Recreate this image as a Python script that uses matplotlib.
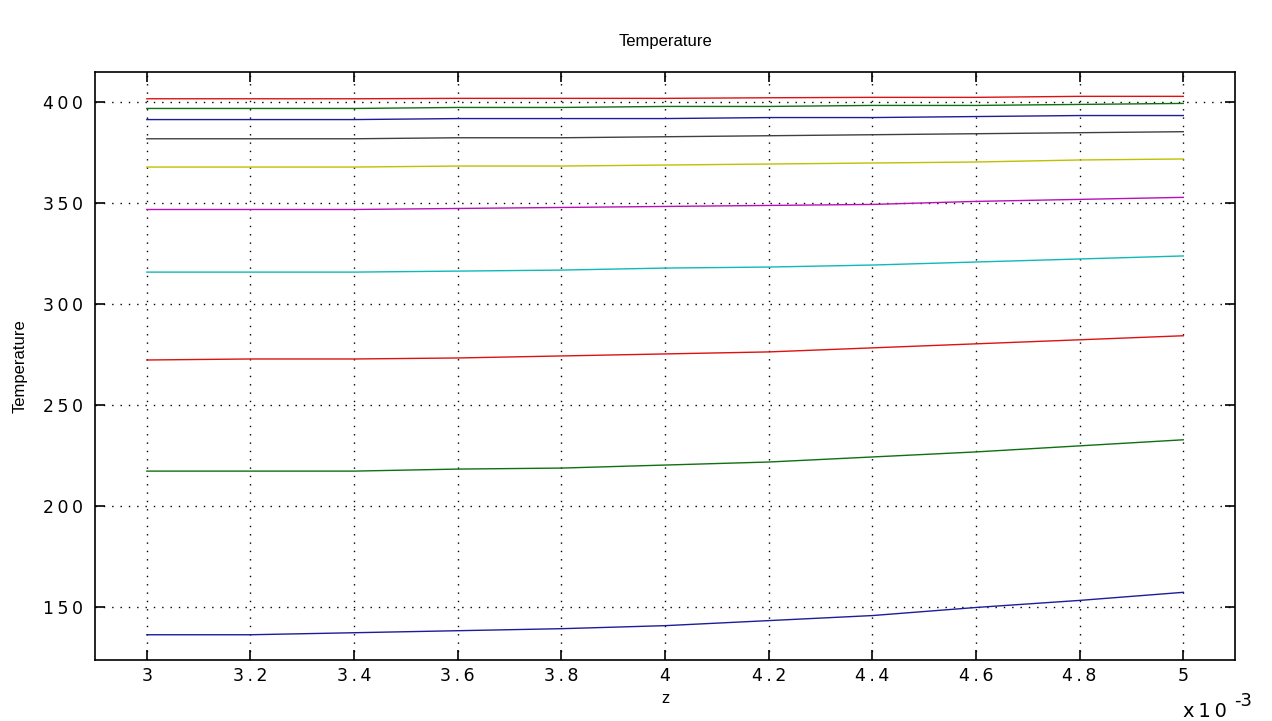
import numpy as np
import matplotlib.pyplot as plt

plt.rcParams['font.family'] = ['Liberation Sans', 'DejaVu Sans']

# z positions (m) and temperature profiles, bottom curve first
z = np.array([3.0, 3.2, 3.4, 3.6, 3.8, 4.0, 4.2, 4.4, 4.6, 4.8, 5.0]) * 1e-3

T1 = [136.5, 136.5, 137.5, 138.5, 139.5, 141, 143.5, 146, 150, 153.5, 157.5]
T2 = [217.5, 217.5, 217.5, 218.5, 219, 220.5, 222, 224.5, 227, 230, 233]
T3 = [272.5, 273, 273, 273.5, 274.5, 275.5, 276.5, 278.5, 280.5, 282.5, 284.5]
T4 = [316, 316, 316, 316.5, 317, 318, 318.5, 319.5, 321, 322.5, 324]
T5 = [347, 347, 347, 347.5, 348, 348.5, 349, 349.5, 351, 352, 353]
T6 = [368, 368, 368, 368.5, 368.5, 369, 369.5, 370, 370.5, 371.5, 372]
T7 = [382, 382, 382, 382.5, 382.5, 383, 383.5, 384, 384.5, 385, 385.5]
T8 = [391.5, 391.5, 391.5, 392, 392, 392, 392.5, 392.5, 393, 393.5, 393.5]
T9 = [397, 397, 397, 397.5, 397.5, 398, 398, 398.5, 398.5, 399, 399.5]
T10 = [401.8, 401.8, 401.8, 402, 402, 402, 402.3, 402.5, 402.5, 403, 403]

profiles = [T1, T2, T3, T4, T5, T6, T7, T8, T9, T10]
# old MATLAB line colour order
colors = ['#1c1c9c', '#107010', '#e01010', '#10b8b8', '#b810b8',
          '#c0c000', '#404040', '#1c1c9c', '#107010', '#e01010']

xticks = [3.0, 3.2, 3.4, 3.6, 3.8, 4.0, 4.2, 4.4, 4.6, 4.8, 5.0]
yticks = [150, 200, 250, 300, 350, 400]


def spaced(s):
    # matlab-ish wide tick label spacing
    return '\u2009'.join(s)


fig = plt.figure(figsize=(12.72, 7.21), dpi=100)
ax = fig.add_axes([0.0747, 0.0846, 0.8963, 0.8154])

for T, c in zip(profiles, colors):
    ax.plot(z, T, color=c, linewidth=1.0)

ax.set_xlim(2.9e-3, 5.1e-3)
ax.set_ylim(124, 415)
ax.set_xticks(np.array(xticks) * 1e-3)
ax.set_xticklabels([spaced(f"{v:g}") for v in xticks], family='DejaVu Sans')
ax.set_yticks(yticks)
ax.set_yticklabels([spaced(str(v)) for v in yticks], family='DejaVu Sans')

ax.grid(True, color='black', linestyle=(0, (1, 5)), linewidth=1.0)
ax.tick_params(direction='in', length=7, width=1.2, top=True, right=True,
               labelsize=12.5, colors='black')
ax.tick_params(axis='x', pad=5)
ax.tick_params(axis='y', pad=9)
for s in ax.spines.values():
    s.set_linewidth(1.2)

ax.set_title('Temperature', fontsize=12, pad=19)
ax.set_xlabel('z', fontsize=12, labelpad=4)
ax.set_ylabel('Temperature', fontsize=12)
ax.yaxis.set_label_coords(-0.059, 0.5)

fig.text(1183 / 1272, 1 - 717 / 721, 'x\u20091\u20090', fontsize=14,
         family='DejaVu Sans', va='baseline')
fig.text(1234 / 1272, 1 - 706 / 721, '-3', fontsize=13,
         family='DejaVu Sans', va='baseline')

fig.savefig('out.png', dpi=100)
